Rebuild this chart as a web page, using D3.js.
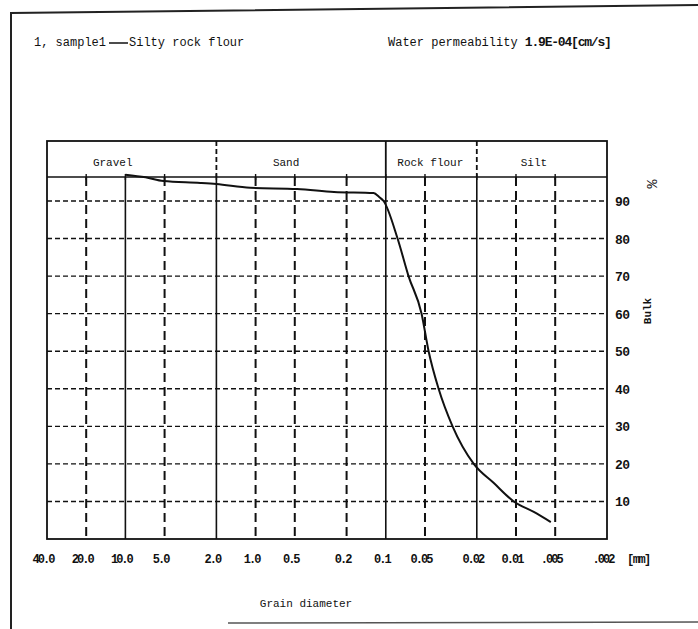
<!DOCTYPE html>
<html>
<head>
<meta charset="utf-8">
<script src="https://cdn.jsdelivr.net/npm/d3@7/dist/d3.min.js"></script>
<style>
	body { margin: 0; background: #ffffff; }
	svg { display: block; }
	text { font-family: "Liberation Mono", "DejaVu Sans Mono", monospace; fill: #111111; }
</style>
</head>
<body>
<svg id="chart" width="698" height="629"></svg>
<script>

	// grain size distribution
	var tickDiameters = [40, 20, 10, 5, 2, 1, 0.5, 0.2, 0.1, 0.05, 0.02, 0.01, 0.005, 0.002];
	var tickLabels = ["40.0", "20.0", "10.0", "5.0", "2.0", "1.0", "0.5", "0.2", "0.1", "0.05", "0.02", "0.01", ".005", ".002"];
	var solidDiameters = [10, 2, 0.1, 0.02];
	var percentTicks = [10, 20, 30, 40, 50, 60, 70, 80, 90];

	var classNames = ["Gravel", "Sand", "Rock flour", "Silt"];
	var classBounds = [40, 2, 0.1, 0.02, 0.002];

	var sampleDiameter = [10, 7, 5.1, 2.66, 2, 1.1, 0.48, 0.25, 0.124, 0.112, 0.104, 0.0812, 0.0669, 0.0531, 0.0469, 0.0393, 0.0307, 0.0211, 0.0148, 0.0104, 0.0073, 0.0054];
	var samplePercent = [97, 96.3, 95.3, 94.8, 94.5, 93.5, 93.2, 92.4, 92.1, 91, 90, 80, 70, 60, 50, 40, 30, 20, 14.9, 10, 7.2, 4.5];

	var sampleName = "1, sample1";
	var soilName = "Silty rock flour";
	var permLabel = "Water permeability ";
	var permValue = "1.9E-04[cm/s]";


	var svg = d3.select("#chart");

	var plotLeft = 47;
	var plotRight = 607;
	var headTop = 141;
	var headBottom = 177;
	var plotBottom = 539;

	var x = d3.scaleLog().domain([40, 0.002]).range([plotLeft, plotRight]);
	var y = d3.scaleLinear().domain([0, 90]).range([plotBottom, 201]);

	// page frame of the scanned sheet
	svg.append("path")
		.attr("d", "M11,629 L11,13 L698,5")
		.attr("fill", "none")
		.attr("stroke", "#222222")
		.attr("stroke-width", 2);

	svg.append("line")
		.attr("x1", 228).attr("y1", 623)
		.attr("x2", 698).attr("y2", 622)
		.attr("stroke", "#555555")
		.attr("stroke-width", 1.5);

	// title line
	var leg = svg.append("g").attr("transform", "translate(34,46)");
	var t1 = leg.append("text").attr("x", 0).attr("y", 0).attr("font-size", 12).text(sampleName);
	var w1 = t1.node().getComputedTextLength();
	leg.append("line")
		.attr("x1", w1 + 3).attr("y1", -3)
		.attr("x2", w1 + 22).attr("y2", -3)
		.attr("stroke", "#111111")
		.attr("stroke-width", 1.5);
	leg.append("text").attr("x", w1 + 23).attr("y", 0).attr("font-size", 12).text(soilName);

	var perm = svg.append("text")
		.attr("x", 388)
		.attr("y", 46)
		.attr("font-size", 12);
	perm.append("tspan").text(permLabel);
	perm.append("tspan").attr("font-size", 13).attr("font-weight", "bold").attr("letter-spacing", -1.2).text(permValue);

	var grid = svg.append("g");

	// horizontal dashed grid
	grid.selectAll("line.h")
		.data(percentTicks)
		.enter().append("line")
		.attr("class", "h")
		.attr("x1", plotLeft)
		.attr("x2", plotRight)
		.attr("y1", function(d) { return y(d); })
		.attr("y2", function(d) { return y(d); })
		.attr("stroke", "#111111")
		.attr("stroke-width", 1.4)
		.attr("stroke-dasharray", "5,3");

	// vertical grid, solid at class boundaries
	var inner = tickDiameters.slice(1, tickDiameters.length - 1);

	grid.selectAll("line.v")
		.data(inner)
		.enter().append("line")
		.attr("class", "v")
		.attr("x1", function(d) { return x(d); })
		.attr("x2", function(d) { return x(d); })
		.attr("y1", headBottom)
		.attr("y2", plotBottom)
		.attr("stroke", "#111111")
		.attr("stroke-width", function(d) { return solidDiameters.indexOf(d) >= 0 ? 1.6 : 2; })
		.attr("stroke-dasharray", function(d) { return solidDiameters.indexOf(d) >= 0 ? null : "9,5"; });

	// small ticks under the header
	grid.selectAll("line.tk")
		.data(inner)
		.enter().append("line")
		.attr("class", "tk")
		.attr("x1", function(d) { return x(d); })
		.attr("x2", function(d) { return x(d); })
		.attr("y1", headBottom - 3)
		.attr("y2", headBottom + 3)
		.attr("stroke", "#111111")
		.attr("stroke-width", 1.4);

	// header band with soil classes
	svg.append("rect")
		.attr("x", plotLeft)
		.attr("y", headTop)
		.attr("width", plotRight - plotLeft)
		.attr("height", plotBottom - headTop)
		.attr("fill", "none")
		.attr("stroke", "#111111")
		.attr("stroke-width", 1.8);

	svg.append("line")
		.attr("x1", plotLeft).attr("x2", plotRight)
		.attr("y1", headBottom).attr("y2", headBottom)
		.attr("stroke", "#111111")
		.attr("stroke-width", 1.6);

	var dividers = classBounds.slice(1, classBounds.length - 1);

	svg.selectAll("line.div")
		.data(dividers)
		.enter().append("line")
		.attr("class", "div")
		.attr("x1", function(d) { return x(d); })
		.attr("x2", function(d) { return x(d); })
		.attr("y1", headTop)
		.attr("y2", headBottom)
		.attr("stroke", "#111111")
		.attr("stroke-width", 1.8)
		.attr("stroke-dasharray", function(d, i) { return i == 1 ? null : "5,3"; });

	var headerShift = [-19, -15, -1, -8];

	svg.selectAll("text.cls")
		.data(classNames)
		.enter().append("text")
		.attr("class", "cls")
		.attr("x", function(d, i) { return (x(classBounds[i]) + x(classBounds[i + 1])) / 2 + headerShift[i]; })
		.attr("y", headTop + 25)
		.attr("text-anchor", "middle")
		.attr("font-size", 11)
		.text(function(d) { return d; });

	// sample curve
	var line = d3.line()
		.x(function(d, i) { return x(sampleDiameter[i]); })
		.y(function(d, i) { return y(samplePercent[i]); })
		.curve(d3.curveMonotoneX);

	svg.append("path")
		.datum(samplePercent)
		.attr("d", line)
		.attr("fill", "none")
		.attr("stroke", "#111111")
		.attr("stroke-width", 2);

	// right percent labels
	svg.selectAll("text.pct")
		.data(percentTicks)
		.enter().append("text")
		.attr("class", "pct")
		.attr("x", plotRight + 8)
		.attr("y", function(d) { return y(d) + 5; })
		.attr("font-size", 13)
		.attr("font-weight", "bold")
		.attr("letter-spacing", -0.5)
		.text(function(d) { return d; });

	svg.append("text")
		.attr("transform", "translate(657,184) rotate(-90)")
		.attr("text-anchor", "middle")
		.attr("font-size", 15)
		.text("%");

	svg.append("text")
		.attr("transform", "translate(651,311) rotate(-90)")
		.attr("text-anchor", "middle")
		.attr("font-size", 11)
		.attr("font-weight", "bold")
		.text("Bulk");

	// bottom diameter labels
	svg.selectAll("text.dia")
		.data(tickDiameters)
		.enter().append("text")
		.attr("class", "dia")
		.attr("x", function(d) { return x(d) - 4; })
		.attr("y", plotBottom + 24)
		.attr("text-anchor", "middle")
		.attr("font-size", 12)
		.attr("font-weight", "bold")
		.attr("letter-spacing", -2)
		.text(function(d, i) { return tickLabels[i]; });

	svg.append("text")
		.attr("x", 627)
		.attr("y", plotBottom + 24)
		.attr("font-size", 12)
		.attr("font-weight", "bold")
		.attr("letter-spacing", -1.5)
		.text("[mm]");

	svg.append("text")
		.attr("x", 306)
		.attr("y", 607)
		.attr("text-anchor", "middle")
		.attr("font-size", 11)
		.text("Grain diameter");

</script>
</body>
</html>
